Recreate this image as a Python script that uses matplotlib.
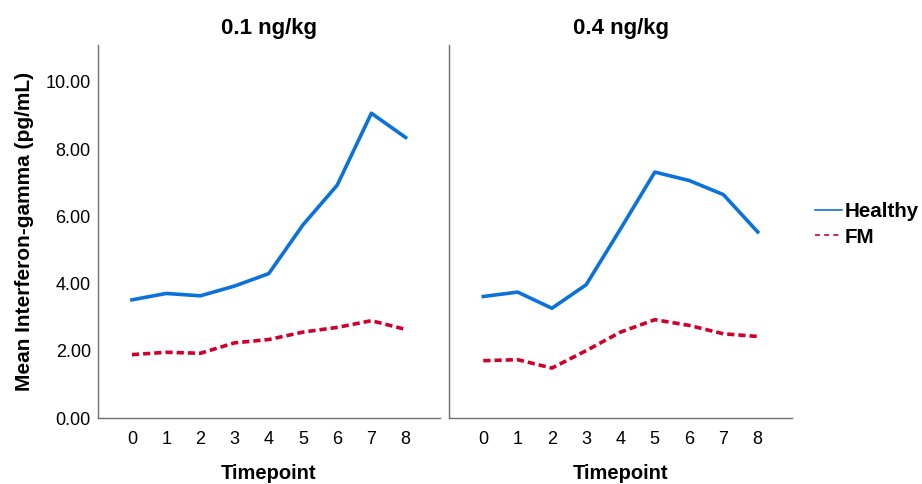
import matplotlib
matplotlib.use("Agg")
import matplotlib.pyplot as plt

plt.rcParams["font.family"] = ["Liberation Sans", "DejaVu Sans"]

timepoints = [0, 1, 2, 3, 4, 5, 6, 7, 8]
doses = ["0.1 ng/kg", "0.4 ng/kg"]

# mean IFN-gamma per timepoint
healthy_01 = [3.52, 3.71, 3.64, 3.93, 4.30, 5.75, 6.93, 9.07, 8.35]
fm_01 = [1.89, 1.96, 1.93, 2.24, 2.34, 2.56, 2.70, 2.90, 2.64]
healthy_04 = [3.62, 3.75, 3.27, 3.97, 5.63, 7.32, 7.07, 6.65, 5.54]
fm_04 = [1.71, 1.74, 1.49, 2.01, 2.56, 2.93, 2.76, 2.51, 2.43]

yticks = [0, 2, 4, 6, 8, 10]
ytick_labels = ["0.00", "2.00", "4.00", "6.00", "8.00", "10.00"]

blue = "#0a72d8"
red = "#d0002c"
spine_col = "#707070"

fig = plt.figure(figsize=(9.22, 4.84), dpi=100)
ax1 = fig.add_axes([0.106, 0.136, 0.371, 0.771])
ax2 = fig.add_axes([0.487, 0.136, 0.372, 0.771])

series = [(healthy_01, fm_01), (healthy_04, fm_04)]
for ax, dose, (h, f) in zip([ax1, ax2], doses, series):
    ax.plot(timepoints, h, color=blue, lw=2.6, label="Healthy")
    ax.plot(timepoints, f, color=red, lw=2.6, ls=(0, (2.0, 1.1)), label="FM")
    ax.set_xlim(-1, 9)
    ax.set_ylim(0, 11.1)
    ax.set_xticks(timepoints)
    ax.set_xticklabels([str(t) for t in timepoints], fontsize=13)
    ax.set_yticks(yticks)
    ax.tick_params(length=0)
    ax.tick_params(axis="x", pad=9)
    ax.tick_params(axis="y", pad=5)
    for s in ["top", "right"]:
        ax.spines[s].set_visible(False)
    for s in ["left", "bottom"]:
        ax.spines[s].set_color(spine_col)
        ax.spines[s].set_linewidth(1.0)
    ax.set_title(dose, fontsize=16, fontweight="bold", pad=8)
    ax.set_xlabel("Timepoint", fontsize=14.5, fontweight="bold", labelpad=12)

ax1.set_yticklabels(ytick_labels, fontsize=13)
ax1.set_ylabel("Mean Interferon-gamma (pg/mL)", fontsize=15, fontweight="bold",
               labelpad=8)
ax2.set_yticklabels([])

handles, labels = ax1.get_legend_handles_labels()
leg = fig.legend(handles, labels, loc="center left", bbox_to_anchor=(0.884, 0.536),
                 frameon=False, handlelength=1.3, handletextpad=0.15,
                 labelspacing=0.3, borderaxespad=0, borderpad=0,
                 prop={"size": 14.8, "weight": "bold"})
leg_lines = leg.get_lines()
for line in leg_lines:
    line.set_linewidth(1.2)
leg_lines[1].set_dashes((3.0, 2.5))

fig.savefig("out.png", dpi=100, facecolor="white")
